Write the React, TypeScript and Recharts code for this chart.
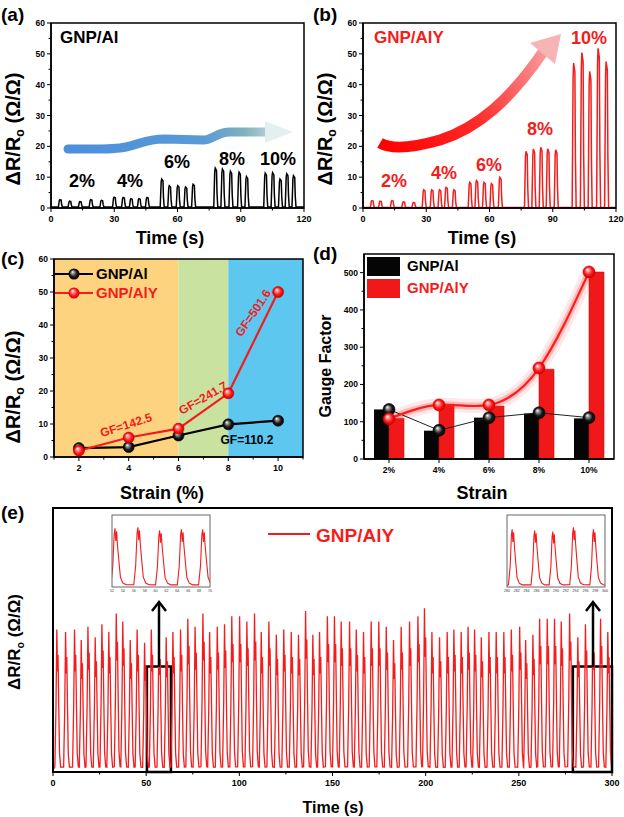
import React from 'react';
import { LineChart, Line, XAxis, YAxis, ReferenceArea, ComposedChart, Bar } from 'recharts';

const FONT = "'Liberation Sans', Arial, Helvetica, sans-serif";
const RED = '#f41c1c';

// (a) GNP/Al cyclic response, peak times (s) and heights
const alTimes = [4.5, 9.1, 14.0, 19.1, 24.2, 30.2, 34.5, 38.2, 42.0, 45.8, 52.8, 56.4, 60.4, 64.1, 67.7, 78.2, 81.6, 85.4, 89.5, 93.0, 101.9, 105.4, 108.9, 112.1, 115.3];
const alHeights = [2.7, 2.2, 2.1, 2.7, 2.5, 3.5, 3.4, 3.0, 3.0, 3.4, 9.4, 7.2, 7.2, 6.8, 7.7, 12.9, 12.6, 11.9, 11.6, 10.2, 11.3, 11.5, 9.4, 11.1, 10.5];

// (b) GNP/AlY cyclic response
const alyTimes = [4.5, 8.4, 14.0, 19.4, 24.2, 29.1, 32.9, 36.6, 39.7, 43.4, 50.9, 54.1, 57.7, 61.2, 65.2, 77.6, 81.1, 84.6, 87.9, 91.7, 100.2, 104.1, 107.8, 111.8, 115.6];
const alyHeights = [2.4, 2.2, 2.4, 2.0, 1.8, 5.9, 5.9, 5.9, 6.7, 5.9, 8.3, 8.9, 8.3, 7.9, 9.9, 18.4, 19.1, 19.7, 19.2, 18.9, 47.0, 50.4, 44.3, 51.8, 47.5];

// (c) response vs strain
const strainSteps = [2, 4, 6, 8, 10];
const alResponse = [2.7, 3.0, 6.5, 9.9, 11.0];
const alyResponse = [1.9, 5.9, 8.6, 19.3, 50.0];

// (d) gauge factor
const gfCategories = ['2%', '4%', '6%', '8%', '10%'];
const alGFBars = [133, 76, 111, 122, 109];
const alyGFBars = [109, 147, 142, 241, 501.6];
const alGFPoints = [133, 77, 111, 124, 111];
const alyGFPoints = [108, 145, 145, 244, 502];

// (e) 300 s cycling of GNP/AlY
const cycleTimes = [
  2.3, 7.0, 11.8, 15.4, 19.0, 22.9, 26.5, 30.2, 34.2, 37.7, 41.7, 45.4, 49.4, 53.0, 57.1, 61.0, 64.6, 68.7, 72.6, 76.5,
  80.7, 84.3, 88.4, 92.3, 96.2, 100.4, 104.3, 108.4, 112.0, 116.1, 120.1, 124.1, 128.1, 132.0, 135.8, 139.7, 143.3, 147.5,
  151.3, 154.9, 159.4, 163.0, 166.9, 171.0, 175.1, 179.1, 183.0, 187.1, 191.6, 196.1, 199.6, 203.6, 207.7, 211.8, 215.4, 219.3, 223.0,
  226.5, 230.1, 234.2, 238.1, 242.2, 246.2, 250.7, 253.9, 257.8, 261.4, 265.5, 269.4, 273.0, 277.5, 281.9, 286.0, 290.0, 294.1, 298.0,
];
const cycleHeights = [
  54, 53, 54, 50, 55, 51, 56, 53, 60, 57, 50, 54, 49, 54, 52, 51, 53, 54, 58, 55,
  60, 53, 55, 56, 59, 59, 57, 60, 53, 57, 52, 54, 53, 52, 61, 52, 53, 59,
  59, 57, 57, 54, 53, 57, 57, 55, 50, 55, 57, 59, 62, 53, 51, 53, 54, 53, 55,
  54, 51, 53, 53, 53, 54, 55, 50, 52, 58, 58, 58, 57, 60, 51, 56, 55, 58, 53,
];
const insetLeftTimes = [52.7, 56.9, 60.9, 64.9, 68.8];
const insetLeftHeights = [57, 58, 55, 56, 56];
const insetRightTimes = [281.2, 285.8, 289.5, 293.7, 297.8];
const insetRightHeights = [56, 55, 54, 58, 56];

// pulse outlines: [offset s, fraction of peak]
const stepPulse = [[-1.0, 0], [-0.55, 0.9], [-0.3, 1.0], [0.3, 0.94], [0.55, 0.35], [0.9, 0]];
const cyclePulse = [[-1.3, 0.02], [-0.7, 0.45], [-0.25, 1.0], [0.1, 0.7], [0.4, 0.82], [0.8, 0.45], [1.2, 0.12], [1.8, 0.02]];
const insetPulse = [[-0.9, 0.02], [-0.55, 0.35], [-0.3, 0.9], [-0.15, 1.0], [0, 0.78], [0.15, 0.95], [0.3, 0.72], [0.55, 0.45], [0.85, 0.15], [1.3, 0.05], [1.9, 0.02]];

function buildTrace(times: number[], heights: number[], shape: number[][], base: number, start: number, end: number) {
  const pts = [{ t: start, v: base }];
  times.forEach((t, i) => {
    shape.forEach(([dt, r]) => pts.push({ t: +(t + dt).toFixed(2), v: base + (heights[i] - base) * r }));
  });
  pts.push({ t: end, v: base });
  return pts;
}

const traceA = buildTrace(alTimes, alHeights, stepPulse, 0.3, 0, 120);
const traceB = buildTrace(alyTimes, alyHeights, stepPulse, 0.2, 0, 120);
const traceE = buildTrace(cycleTimes, cycleHeights, cyclePulse, 0.8, 0, 300);
const insetL = buildTrace(insetLeftTimes, insetLeftHeights, insetPulse, 1, 51.5, 70.5);
const insetR = buildTrace(insetRightTimes, insetRightHeights, insetPulse, 1, 279.5, 300.5);

const strainData = strainSteps.map((s, i) => ({ s, al: alResponse[i], aly: alyResponse[i] }));
const gfData = gfCategories.map((c, i) => ({
  cat: c, alBar: alGFBars[i], alyBar: alyGFBars[i], alPt: alGFPoints[i], alyPt: alyGFPoints[i],
}));

const range = (a: number, b: number, s: number) => {
  const out: number[] = [];
  for (let v = a; v <= b + 1e-9; v += s) out.push(v);
  return out;
};

const bottomTick = (isMajor: (v: any) => boolean, size = 9) => (p: any) => {
  const v = p.payload.value;
  const maj = isMajor(v);
  return (
    <g>
      <line x1={p.x} x2={p.x} y1={p.y} y2={p.y + (maj ? 4 : 2.5)} stroke="#000" strokeWidth={1} />
      {maj && (
        <text x={p.x} y={p.y + 14} textAnchor="middle" fontSize={size} fontWeight="bold" fill="#000" fontFamily={FONT}>
          {v}
        </text>
      )}
    </g>
  );
};

const leftTick = (isMajor: (v: any) => boolean, size = 8.5) => (p: any) => {
  const v = p.payload.value;
  const maj = isMajor(v);
  return (
    <g>
      <line x1={p.x} x2={p.x - (maj ? 4 : 2.5)} y1={p.y} y2={p.y} stroke="#000" strokeWidth={1} />
      {maj && (
        <text x={p.x - 6} y={p.y + 3} textAnchor="end" fontSize={size} fontWeight="bold" fill="#000" fontFamily={FONT}>
          {v}
        </text>
      )}
    </g>
  );
};

const ball = (id: string, r: number) => (p: any) => {
  if (p.cx == null || p.cy == null) return <g key={p.index} />;
  return <circle key={p.index} cx={p.cx} cy={p.cy} r={r} fill={`url(#${id})`} stroke={id === 'ballBlack' ? '#000' : '#c00'} strokeWidth={0.6} />;
};

const axisLine = { stroke: '#000', strokeWidth: 1.5 };

function StepPanel({ data, color }: { data: { t: number; v: number }[]; color: string }) {
  return (
    <LineChart width={312} height={250} data={data} margin={{ top: 23, right: 8, left: 21, bottom: 22 }}>
      <XAxis dataKey="t" type="number" domain={[0, 120]} ticks={range(0, 120, 15)} interval={0} height={20}
        tickSize={0} tickMargin={0} tickLine={false} axisLine={axisLine} tick={bottomTick((v) => v % 30 === 0)} />
      <YAxis type="number" domain={[0, 60]} ticks={range(0, 60, 5)} interval={0} width={30}
        tickSize={0} tickMargin={0} tickLine={false} axisLine={axisLine} tick={leftTick((v) => v % 10 === 0)} />
      <Line dataKey="v" stroke={color} strokeWidth={1.5} dot={false} isAnimationActive={false} />
    </LineChart>
  );
}

function ResponseTitle({ cx, cy, size }: { cx: number; cy: number; size: number }) {
  return (
    <text transform={`translate(${cx},${cy}) rotate(-90)`} textAnchor="middle" fontSize={size} fontWeight="bold" fill="#000" dy="0.35em">
      ΔR/R<tspan fontSize={size * 0.62} dy={size * 0.22}>o</tspan>
      <tspan dy={-size * 0.22}> (Ω/Ω)</tspan>
    </text>
  );
}

function Inset({ data, domain, ticks, left }: { data: any[]; domain: number[]; ticks: number[]; left: number }) {
  return (
    <div style={{ position: 'absolute', left: left - 5, top: 515 }}>
      <LineChart width={108} height={80} data={data} margin={{ top: 0, right: 5, left: 5, bottom: 0 }}>
        <XAxis dataKey="t" type="number" domain={domain} allowDataOverflow ticks={ticks} interval={0} height={8}
          tickSize={0} tickMargin={0} tickLine={false} axisLine={false}
          tick={(p: any) => (
            <text x={p.x} y={p.y + 5} textAnchor="middle" fontSize={3.6} fill="#333" fontFamily={FONT}>{p.payload.value}</text>
          )} />
        <YAxis type="number" domain={[0, 70]} hide />
        <Line dataKey="v" stroke={RED} strokeWidth={1.1} dot={false} isAnimationActive={false} />
      </LineChart>
    </div>
  );
}

export default function App() {
  const T = (x: number, y: number, s: string, size: number, color = '#000', anchor: any = 'middle') => (
    <text x={x} y={y} dy="0.35em" textAnchor={anchor} fontSize={size} fontWeight="bold" fill={color}>{s}</text>
  );
  return (
    <div style={{ position: 'absolute', left: 0, top: 0, width: 624, height: 817, background: '#fff', fontFamily: FONT, overflow: 'hidden' }}>
      <div style={{ position: 'absolute', left: 0, top: 0 }}>
        <StepPanel data={traceA} color="#000" />
      </div>
      <div style={{ position: 'absolute', left: 312, top: 0 }}>
        <StepPanel data={traceB} color={RED} />
      </div>

      {/* (c) */}
      <div style={{ position: 'absolute', left: 0, top: 250 }}>
        <LineChart width={312} height={240} data={strainData} margin={{ top: 9, right: 9, left: 24, bottom: 13 }}>
          <XAxis dataKey="s" type="number" domain={[1, 11]} ticks={range(1, 11, 1)} interval={0} height={20}
            tickSize={0} tickMargin={0} tickLine={false} axisLine={axisLine}
            tick={bottomTick((v) => v % 2 === 0)} />
          <YAxis type="number" domain={[0, 60]} ticks={range(0, 60, 5)} interval={0} width={30}
            tickSize={0} tickMargin={0} tickLine={false} axisLine={axisLine} tick={leftTick((v) => v % 10 === 0)} />
          <ReferenceArea x1={1} x2={6} y1={0} y2={60} fill="#fed37f" fillOpacity={1} stroke="none" />
          <ReferenceArea x1={6} x2={8} y1={0} y2={60} fill="#c9e2a0" fillOpacity={1} stroke="none" />
          <ReferenceArea x1={8} x2={11} y1={0} y2={60} fill="#5ec7ef" fillOpacity={1} stroke="none" />
          <Line dataKey="al" stroke="#000" strokeWidth={2.2} dot={ball('ballBlack', 5.5)} isAnimationActive={false} />
          <Line dataKey="aly" stroke={RED} strokeWidth={2.2} dot={ball('ballRed', 5.5)} isAnimationActive={false} />
        </LineChart>
      </div>

      {/* (d) */}
      <div style={{ position: 'absolute', left: 312, top: 250 }}>
        <ComposedChart width={312} height={240} data={gfData} margin={{ top: 4, right: 10, left: 22, bottom: 11 }}
          barCategoryGap="20%" barGap={0}>
          <XAxis dataKey="cat" type="category" interval={0} height={20}
            tickSize={0} tickMargin={0} tickLine={false} axisLine={axisLine} tick={bottomTick(() => true, 8.5)} />
          <YAxis type="number" domain={[0, 550]} ticks={range(0, 500, 50)} interval={0} width={30}
            tickSize={0} tickMargin={0} tickLine={false} axisLine={axisLine} tick={leftTick((v) => v % 100 === 0)} />
          <Bar dataKey="alBar" fill="#050505" isAnimationActive={false} />
          <Bar dataKey="alyBar" fill="#f01818" stroke="#c41010" strokeWidth={0.6} isAnimationActive={false} />
          <Line dataKey="alyPt" type="natural" stroke="#ff2020" strokeOpacity={0.1} strokeWidth={14} dot={false} isAnimationActive={false} />
          <Line dataKey="alyPt" type="natural" stroke="#ff2020" strokeOpacity={0.22} strokeWidth={7} dot={false} isAnimationActive={false} />
          <Line dataKey="alPt" type="linear" stroke="#222" strokeWidth={1} dot={ball('ballBlack', 6)} isAnimationActive={false} />
          <Line dataKey="alyPt" type="natural" stroke="#ff1a1a" strokeWidth={2.2} dot={ball('ballRed', 6)} isAnimationActive={false} />
        </ComposedChart>
      </div>

      {/* (e) */}
      <div style={{ position: 'absolute', left: 0, top: 500 }}>
        <LineChart width={624} height={300} data={traceE} margin={{ top: 8, right: 12, left: 53, bottom: 8 }}>
          <XAxis dataKey="t" type="number" domain={[0, 300]} ticks={range(0, 300, 25)} interval={0} height={20}
            tickSize={0} tickMargin={0} tickLine={false} axisLine={{ stroke: '#000', strokeWidth: 2 }}
            tick={bottomTick((v) => v % 50 === 0)} />
          <YAxis type="number" domain={[0, 100]} width={0} tick={false} tickLine={false} axisLine={{ stroke: '#000', strokeWidth: 2 }} />
          <Line dataKey="v" stroke={RED} strokeWidth={1.3} dot={false} isAnimationActive={false} />
          <ReferenceArea x1={50.4} x2={63.3} y1={0} y2={40} fill="none" fillOpacity={0} stroke="#000" strokeWidth={2.5} />
          <ReferenceArea x1={279} x2={300} y1={0} y2={40} fill="none" fillOpacity={0} stroke="#000" strokeWidth={2.5} />
        </LineChart>
      </div>
      <Inset data={insetL} domain={[52, 70]} ticks={range(52, 70, 2)} left={112} />
      <Inset data={insetR} domain={[280, 300]} ticks={range(280, 300, 2)} left={507} />

      <svg width={624} height={817} style={{ position: 'absolute', left: 0, top: 0, pointerEvents: 'none' }} fontFamily={FONT}>
        <defs>
          <linearGradient id="blueArrow" gradientUnits="userSpaceOnUse" x1={68} y1={0} x2={293} y2={0}>
            <stop offset="0" stopColor="#4c8fdb" />
            <stop offset="0.6" stopColor="#5a9ad6" />
            <stop offset="0.78" stopColor="#7eb0bd" />
            <stop offset="1" stopColor="#e4eff0" />
          </linearGradient>
          <linearGradient id="redArrow" gradientUnits="userSpaceOnUse" x1={380} y1={143} x2={560} y2={35}>
            <stop offset="0" stopColor="#ff0000" />
            <stop offset="0.45" stopColor="#ff2a2a" />
            <stop offset="1" stopColor="#f7b4b4" />
          </linearGradient>
          <radialGradient id="ballBlack" cx="0.5" cy="0.5" r="0.5" fx="0.35" fy="0.3">
            <stop offset="0" stopColor="#ffffff" />
            <stop offset="0.25" stopColor="#9a9a9a" />
            <stop offset="0.65" stopColor="#1a1a1a" />
            <stop offset="1" stopColor="#000" />
          </radialGradient>
          <radialGradient id="ballRed" cx="0.5" cy="0.5" r="0.5" fx="0.35" fy="0.3">
            <stop offset="0" stopColor="#ffffff" />
            <stop offset="0.25" stopColor="#ff9a9a" />
            <stop offset="0.65" stopColor="#ff1a1a" />
            <stop offset="1" stopColor="#c80000" />
          </radialGradient>
        </defs>

        {/* frames */}
        <rect x={51} y={23} width={253} height={185} fill="none" stroke="#000" strokeWidth={1.5} />
        <rect x={363} y={23} width={253} height={185} fill="none" stroke="#000" strokeWidth={1.5} />
        <rect x={54} y={259} width={249} height={198} fill="none" stroke="#000" strokeWidth={1.5} />
        <rect x={364} y={254} width={250} height={205} fill="none" stroke="#000" strokeWidth={1.5} />
        <rect x={53} y={508} width={559} height={264} fill="none" stroke="#000" strokeWidth={2} />
        <rect x={112} y={515} width={98} height={72} fill="none" stroke="#666" strokeWidth={1} />
        <rect x={507} y={515} width={98} height={72} fill="none" stroke="#666" strokeWidth={1} />

        {/* panel letters */}
        {T(1, 14, '(a)', 19, '#000', 'start')}
        {T(313, 14, '(b)', 19, '#000', 'start')}
        {T(1, 258, '(c)', 19, '#000', 'start')}
        {T(313, 253, '(d)', 19, '#000', 'start')}
        {T(1, 512, '(e)', 19, '#000', 'start')}

        {/* axis titles */}
        <ResponseTitle cx={13} cy={129} size={20} />
        <ResponseTitle cx={325} cy={129} size={20} />
        <ResponseTitle cx={13} cy={387} size={20} />
        <ResponseTitle cx={14} cy={642} size={17} />
        <text transform="translate(325,366) rotate(-90)" textAnchor="middle" dy="0.35em" fontSize={16} fontWeight="bold">Gauge Factor</text>
        {T(170, 238, 'Time (s)', 18)}
        {T(482, 238, 'Time (s)', 18)}
        {T(162, 493, 'Strain (%)', 18)}
        {T(482, 493, 'Strain', 18)}
        {T(333, 807, 'Time (s)', 16)}

        {/* (a) annotations */}
        {T(60, 37, 'GNP/Al', 17, '#000', 'start')}
        <path d="M68,149 C95,149 112,150 126,147 C140,144 146,139 165,139 L203,140 C214,140 216,132 230,132 L266,132"
          fill="none" stroke="url(#blueArrow)" strokeWidth={9} strokeLinecap="round" />
        <polygon points="265,121 293,132 265,143" fill="#e4eff0" />
        {T(82, 181, '2%', 18)}
        {T(130, 181, '4%', 18)}
        {T(177, 162, '6%', 18)}
        {T(232, 159, '8%', 18)}
        {T(278, 159, '10%', 18)}

        {/* (b) annotations */}
        {T(374, 37, 'GNP/AlY', 17, RED, 'start')}
        <path d="M380,143 C392,150 412,148 440,140 C478,128 510,100 543,52"
          fill="none" stroke="url(#redArrow)" strokeWidth={11} />
        <polygon points="530,43 561,34 555,64" fill="#f7b4b4" />
        {T(394, 181, '2%', 18, RED)}
        {T(444, 173, '4%', 18, RED)}
        {T(489, 165, '6%', 18, RED)}
        {T(540, 129, '8%', 18, RED)}
        {T(589, 38, '10%', 18, RED)}

        {/* (c) legend and GF labels */}
        <line x1={55} x2={93} y1={274} y2={274} stroke="#000" strokeWidth={2.2} />
        <circle cx={74} cy={274} r={5.5} fill="url(#ballBlack)" />
        {T(96, 274, 'GNP/Al', 15, '#000', 'start')}
        <line x1={55} x2={93} y1={293} y2={293} stroke={RED} strokeWidth={2.2} />
        <circle cx={74} cy={293} r={5.5} fill="url(#ballRed)" />
        {T(96, 293, 'GNP/AlY', 15, RED, 'start')}
        <text transform="translate(126,425) rotate(-18)" textAnchor="middle" dy="0.35em" fontSize={12} fontWeight="bold" fill={RED}>GF=142.5</text>
        <text transform="translate(203,398) rotate(-30)" textAnchor="middle" dy="0.35em" fontSize={12} fontWeight="bold" fill={RED}>GF=241.7</text>
        <text transform="translate(253,313) rotate(-56)" textAnchor="middle" dy="0.35em" fontSize={12} fontWeight="bold" fill={RED}>GF=501.6</text>
        <text x={247} y={440} textAnchor="middle" dy="0.35em" fontSize={12} fontWeight="bold" fill="#000">GF=110.2</text>

        {/* (d) legend */}
        <rect x={367} y={257} width={33} height={19} fill="#050505" />
        <rect x={367} y={279} width={33} height={19} fill="#f01818" />
        {T(407, 266, 'GNP/Al', 15, '#000', 'start')}
        {T(407, 288, 'GNP/AlY', 15, RED, 'start')}

        {/* (e) legend and zoom arrows */}
        <line x1={268} x2={310} y1={534} y2={534} stroke={RED} strokeWidth={2} />
        {T(316, 535, 'GNP/AlY', 19, RED, 'start')}
        <line x1={159} x2={159} y1={667} y2={603} stroke="#000" strokeWidth={2.5} />
        <polyline points="152,611 159,602 166,611" fill="none" stroke="#000" strokeWidth={2.5} />
        <line x1={593} x2={593} y1={667} y2={603} stroke="#000" strokeWidth={2.5} />
        <polyline points="586,611 593,602 600,611" fill="none" stroke="#000" strokeWidth={2.5} />
      </svg>
    </div>
  );
}
